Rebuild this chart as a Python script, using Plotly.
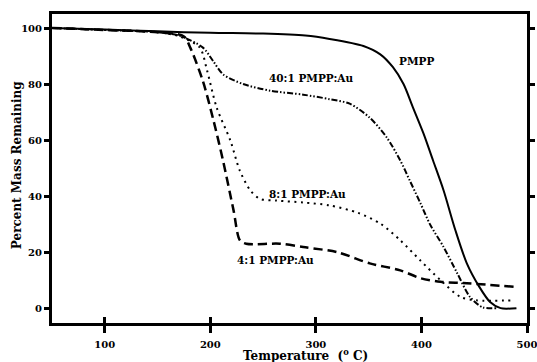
import plotly.graph_objects as go

# ---- data ----
pmpp_t = [50, 100, 150, 200, 250, 290, 313, 345, 361, 373, 383, 392, 402, 411, 421, 432, 443, 455, 465, 475, 490]
pmpp_y = [100, 99.5, 98.8, 98.3, 98.0, 97.3, 96.1, 93.6, 90.6, 86.0, 80.0, 71.6, 62.3, 52.7, 42.0, 28.0, 16.0, 7.5, 2.2, 0, 0]

r40_t = [50, 100, 150, 171, 193, 203, 212, 231, 257, 288, 313, 332, 351, 367, 380, 389, 399, 408, 421, 434, 446, 458, 471]
r40_y = [100, 99.3, 98.5, 97.2, 93.0, 88.0, 83.5, 80.0, 77.6, 76.2, 74.6, 73.0, 68.0, 61.0, 52.7, 45.5, 37.5, 30.0, 21.8, 12.4, 4.0, 0.3, 0]

r8_t = [50, 100, 150, 171, 190, 197, 206, 219, 228, 238, 247, 263, 288, 313, 340, 361, 380, 399, 418, 437, 452, 488]
r8_y = [100, 99.3, 98.5, 97.0, 93.0, 84.7, 71.6, 59.8, 49.0, 42.0, 39.0, 38.4, 37.7, 36.7, 34.0, 30.2, 24.2, 17.0, 10.0, 4.0, 2.8, 2.8]

r4_t = [50, 100, 150, 175, 181, 193, 203, 212, 222, 228, 234, 266, 288, 320, 351, 380, 399, 418, 443, 488]
r4_y = [100, 99.3, 98.5, 97.0, 93.0, 81.0, 67.0, 52.7, 34.9, 24.2, 23.0, 23.0, 21.8, 20.0, 16.0, 13.5, 10.7, 9.4, 8.9, 7.6]

series_names = ["PMPP", "40:1 PMPP:Au", "8:1 PMPP:Au", "4:1 PMPP:Au"]
x_ticks = [100, 200, 300, 400, 500]
y_ticks = [0, 20, 40, 60, 80, 100]

FONT = "DejaVu Serif"

fig = go.Figure()
styles = [
    dict(dash="solid", width=2),
    dict(dash="6px,2px,1.5px,2px,1.5px,2px", width=2),
    dict(dash="2px,4.5px", width=2),
    dict(dash="9px,5px", width=2.5),
]
for (t, y), name, st in zip([(pmpp_t, pmpp_y), (r40_t, r40_y), (r8_t, r8_y), (r4_t, r4_y)], series_names, styles):
    fig.add_trace(go.Scatter(x=t, y=y, mode="lines", name=name,
                             line=dict(color="black", shape="spline", smoothing=0.8, **st),
                             showlegend=False))

# invisible trace for the overlaid x axis (inner tick marks)
fig.add_trace(go.Scatter(x=[300], y=[50], xaxis="x2", mode="markers",
                         marker=dict(opacity=0), showlegend=False, hoverinfo="skip"))

labels = [("PMPP", 395, 88.3), ("40:1 PMPP:Au", 295.5, 82.2), ("8:1 PMPP:Au", 291.7, 40.9), ("4:1 PMPP:Au", 262, 17.1)]
for txt, ax_, ay_ in labels:
    fig.add_annotation(x=ax_, y=ay_, text=txt, showarrow=False,
                       font=dict(family=FONT, size=10.5, color="black", weight="bold"))

title_font = dict(family=FONT, size=12, color="black", weight="bold")
fig.add_annotation(xref="paper", yref="paper", x=0.533, y=-0.103, yanchor="middle",
                   text="Temperature  (<sup>o</sup> C)", showarrow=False, font=title_font)
fig.add_annotation(xref="paper", yref="paper", x=-0.072, y=0.51, textangle=-90,
                   xanchor="center", yanchor="middle",
                   text="Percent Mass Remaining", showarrow=False, font=title_font)

axis_font = dict(family=FONT, size=10, color="black", weight="bold")
fig.update_layout(
    width=537, height=362,
    margin=dict(l=52, r=10, t=14, b=39, autoexpand=False),
    paper_bgcolor="white", plot_bgcolor="white",
    xaxis=dict(range=[50, 500], tickvals=x_ticks, ticks="outside", ticklen=7, tickwidth=3,
               tickcolor="black", showline=True, linewidth=3, linecolor="black", mirror=True,
               showgrid=False, zeroline=False, tickfont=axis_font, automargin=False,
               ticklabeloverflow="allow", ticklabelstandoff=3),
    xaxis2=dict(range=[50, 500], overlaying="x", side="bottom", tickvals=x_ticks, ticks="inside",
                ticklen=6, tickwidth=3, tickcolor="black", showticklabels=False,
                showline=False, showgrid=False, zeroline=False, automargin=False),
    yaxis=dict(range=[-5.3, 105], tickvals=y_ticks, ticks="outside", ticklen=5, tickwidth=3,
               tickcolor="black", showline=True, linewidth=3, linecolor="black", mirror="ticks",
               showgrid=False, zeroline=False, tickfont=axis_font, automargin=False,
               ticklabeloverflow="allow"),
)

fig.write_html("out.html", config={"displayModeBar": False},
               post_script="document.body.style.margin='0px';document.body.style.overflow='hidden';")
